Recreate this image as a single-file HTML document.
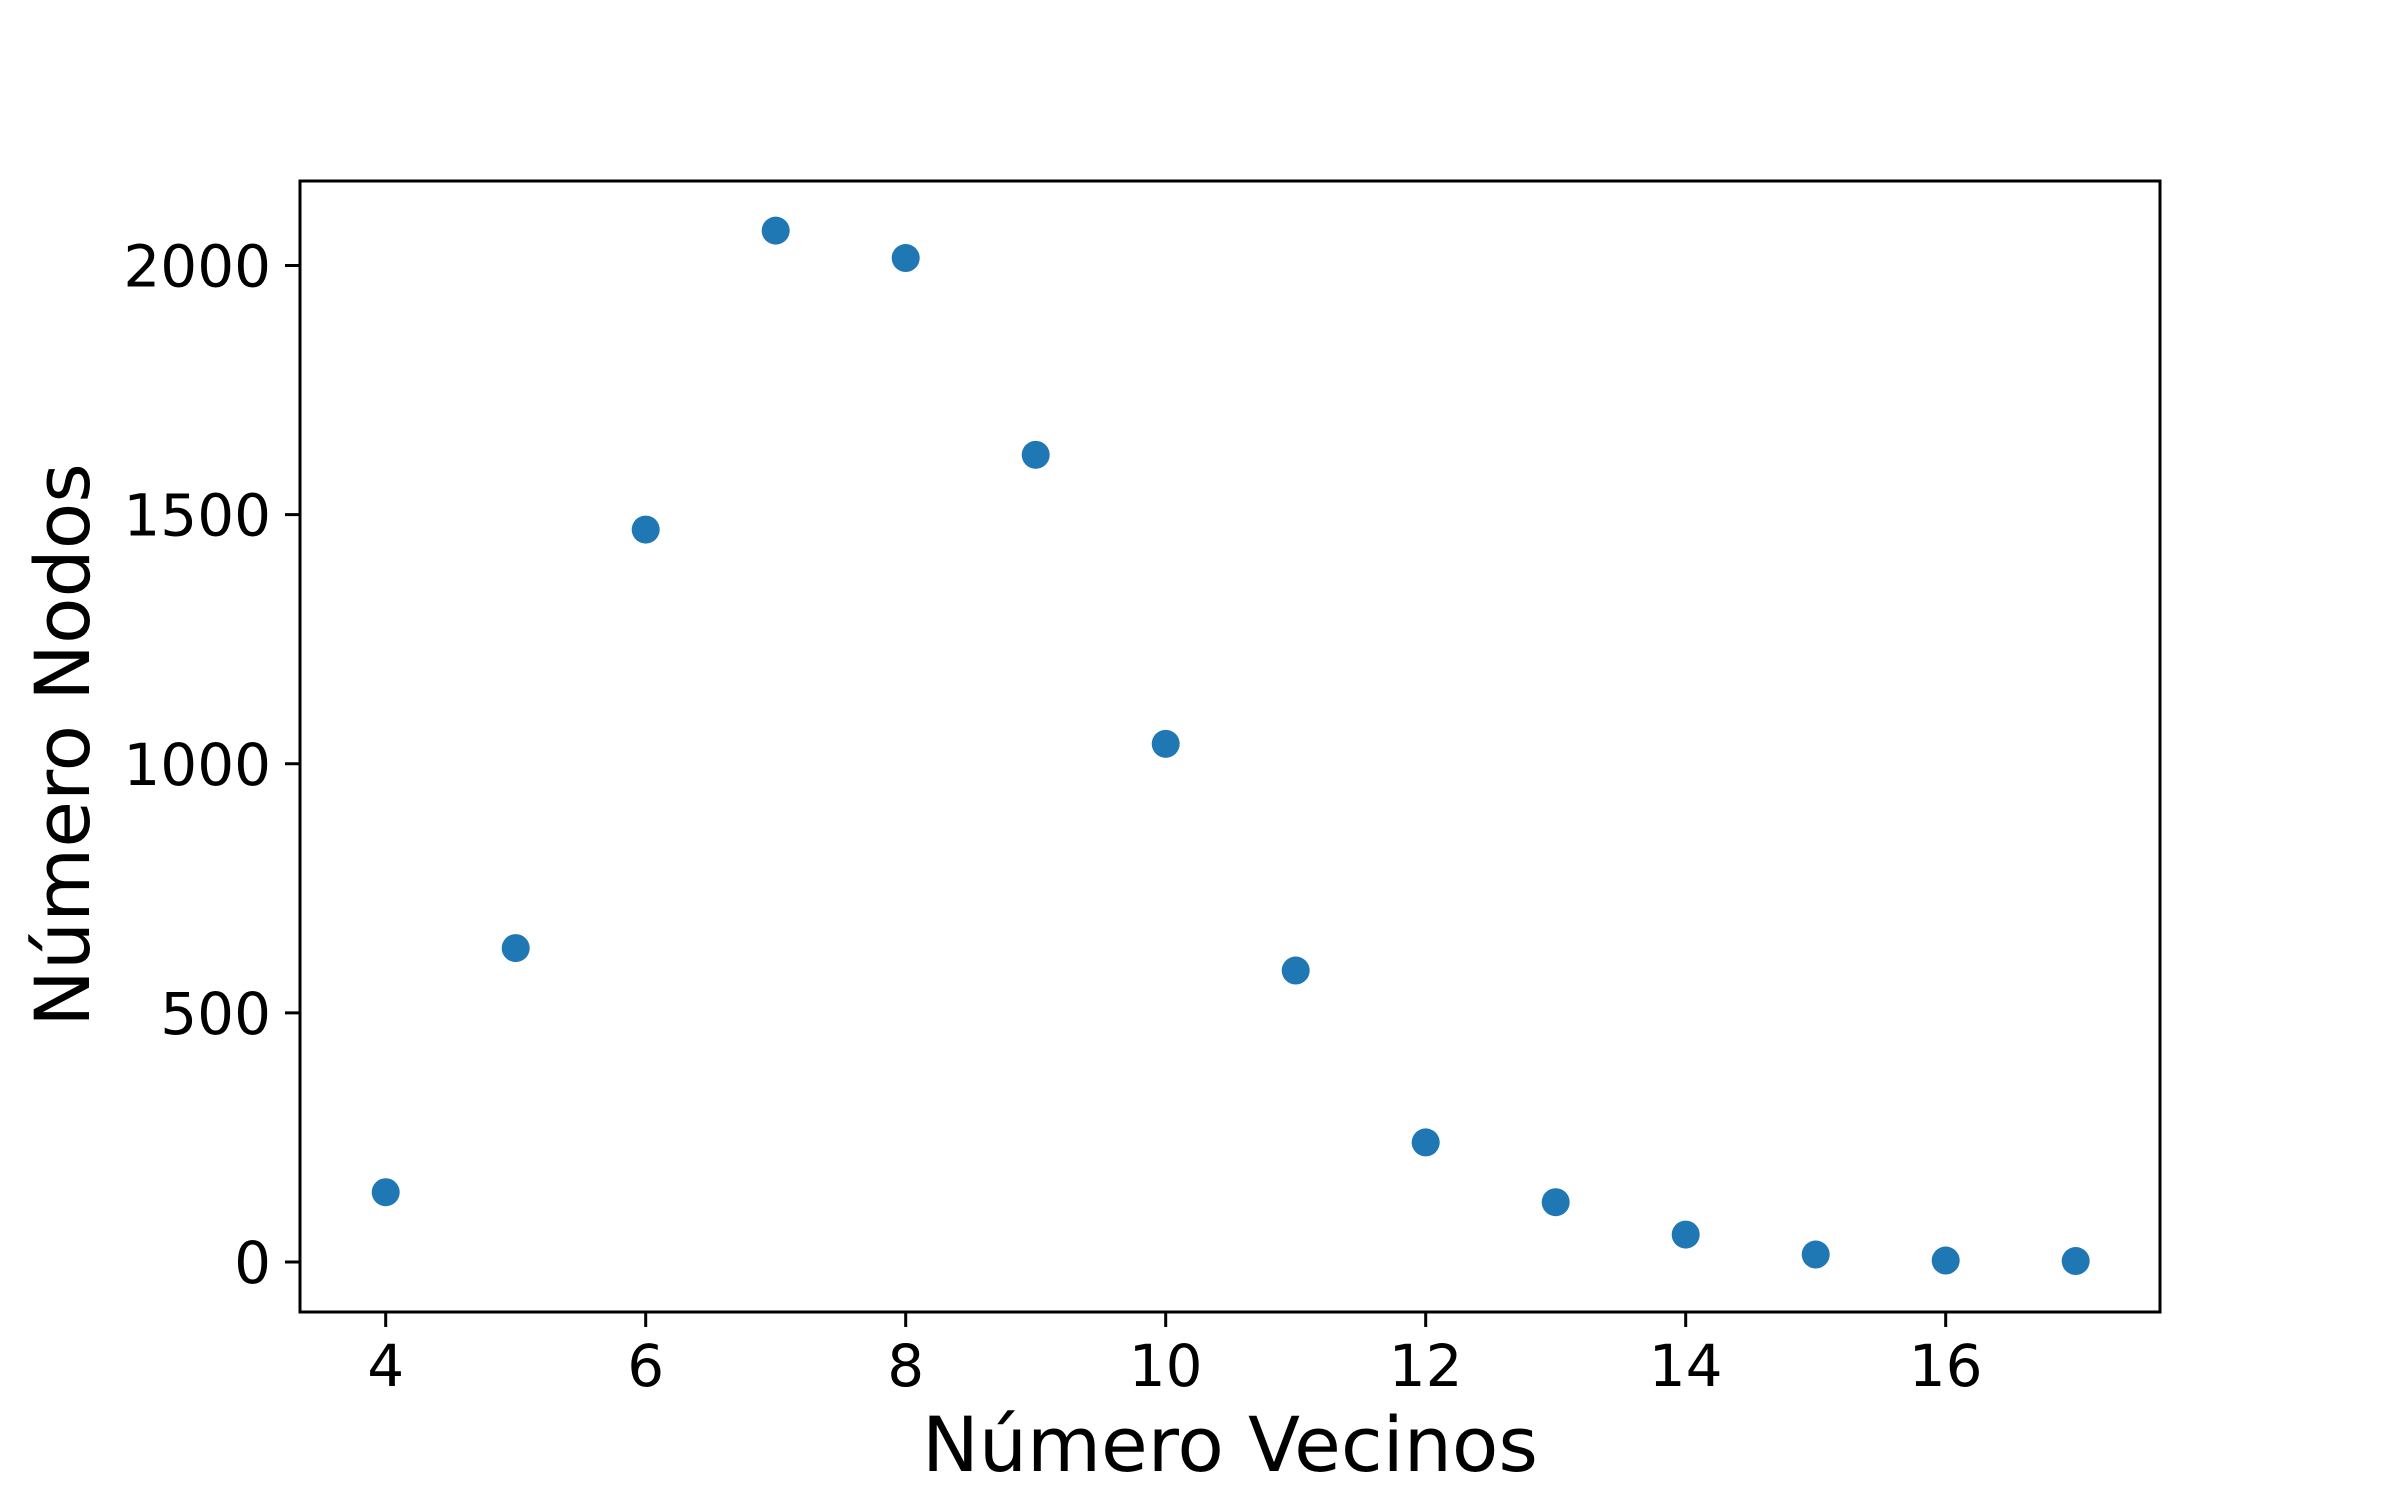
<!DOCTYPE html>
<html><head><meta charset="utf-8"><style>
html,body{margin:0;padding:0;background:#fff;}
svg{display:block;}
text{font-family:"DejaVu Sans","Liberation Sans",sans-serif;fill:#000;}
</style></head><body>
<svg id="chart" width="2400" height="1500" viewBox="0 0 2400 1500" xmlns="http://www.w3.org/2000/svg">
<rect x="300" y="181" width="1860" height="1131" fill="#fff" stroke="none"/>
<g id="marks"></g>
<g id="xt"></g>
<g id="yt"></g>
<rect x="300" y="181" width="1860" height="1131" fill="none" stroke="#000" stroke-width="3"/>
<text x="1230" y="1471" font-size="76" text-anchor="middle">Número Vecinos</text>
<text transform="translate(89,745) rotate(-90)" font-size="76" text-anchor="middle">Número Nodos</text>
</svg>
<script>
const categories=[4,5,6,7,8,9,10,11,12,13,14,15,16,17];
const nodeCounts=[140,630,1470,2070,2015,1620,1040,585,240,120,55,15,3,2];
const xTicks=[4,6,8,10,12,14,16];
const yTicks=[0,500,1000,1500,2000];
const NS="http://www.w3.org/2000/svg";
function xs(v){return 385.7+(v-4)*130;}
function ys(v){return 1262-v*(1262-265.5)/2000;}
const marks=document.getElementById('marks');
categories.forEach((c,i)=>{
  const el=document.createElementNS(NS,'circle');
  
  
  el.setAttribute('cx',xs(c));el.setAttribute('cy',ys(nodeCounts[i]));
  el.setAttribute('r',14);el.setAttribute('fill','#1f77b4');
  marks.appendChild(el);
});
const xt=document.getElementById('xt');
xTicks.forEach(t=>{
  const l=document.createElementNS(NS,'line');
  
  
  l.setAttribute('x1',xs(t));l.setAttribute('x2',xs(t));
  l.setAttribute('y1',1312);l.setAttribute('y2',1327);
  l.setAttribute('stroke','#000');l.setAttribute('stroke-width',3);
  xt.appendChild(l);
  const tx=document.createElementNS(NS,'text');
  
  
  tx.setAttribute('x',xs(t));tx.setAttribute('y',1386);
  tx.setAttribute('font-size',58);tx.setAttribute('text-anchor','middle');
  tx.textContent=t;xt.appendChild(tx);
});
const yt=document.getElementById('yt');
yTicks.forEach(t=>{
  const l=document.createElementNS(NS,'line');
  
  
  l.setAttribute('x1',285);l.setAttribute('x2',300);
  l.setAttribute('y1',ys(t));l.setAttribute('y2',ys(t));
  l.setAttribute('stroke','#000');l.setAttribute('stroke-width',3);
  yt.appendChild(l);
  const tx=document.createElementNS(NS,'text');
  
  
  tx.setAttribute('x',271);tx.setAttribute('y',ys(t)+21);
  tx.setAttribute('font-size',58);tx.setAttribute('text-anchor','end');
  tx.textContent=t;yt.appendChild(tx);
});
</script>
</body></html>
